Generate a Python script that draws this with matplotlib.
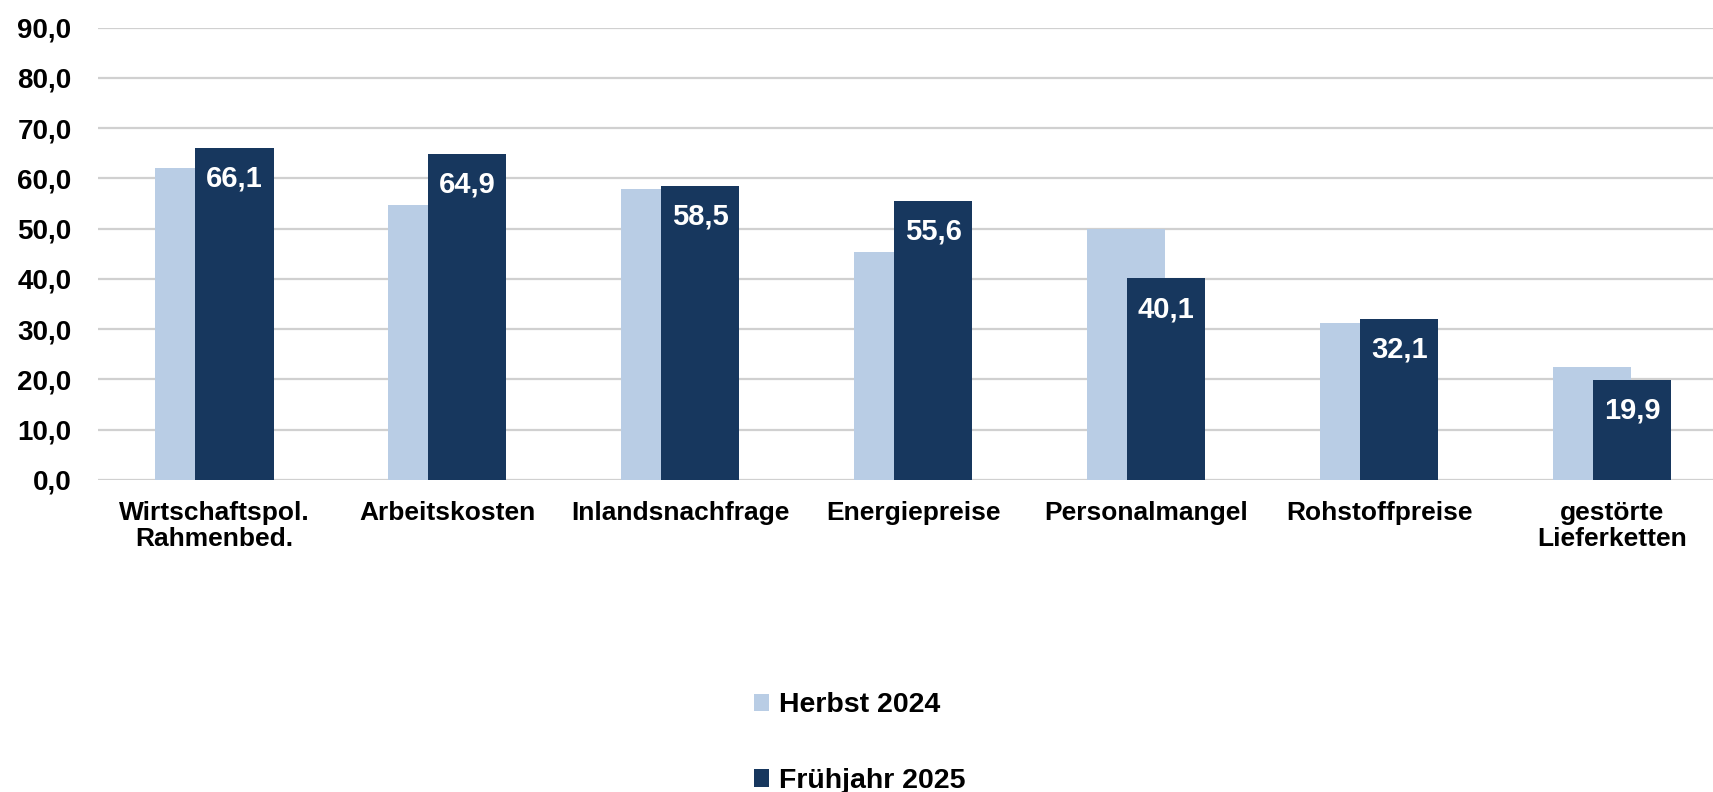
import matplotlib.pyplot as plt
import numpy as np

plt.rcParams['font.family'] = ['Liberation Sans', 'DejaVu Sans']
plt.rcParams['font.weight'] = 'bold'

categories = ['Wirtschaftspol.\nRahmenbed.', 'Arbeitskosten', 'Inlandsnachfrage',
              'Energiepreise', 'Personalmangel', 'Rohstoffpreise',
              'gestörte\nLieferketten']
herbst_2024 = [62.0, 54.8, 58.0, 45.4, 50.0, 31.3, 22.4]
fruehjahr_2025 = [66.1, 64.9, 58.5, 55.6, 40.1, 32.1, 19.9]
y_ticks = np.arange(0, 91, 10)

light = '#b9cde5'
dark = '#17375e'

fig = plt.figure(figsize=(17.13, 7.92), dpi=100)
ax = fig.add_axes([0.0572, 0.394, 0.952, 0.571])

x = np.arange(len(categories))
w = 0.335
off = 0.086
ax.bar(x - off, herbst_2024, w, color=light, label='Herbst 2024', zorder=2)
bars = ax.bar(x + off, fruehjahr_2025, w, color=dark, label='Frühjahr 2025', zorder=3)

for b, v in zip(bars, fruehjahr_2025):
    ax.annotate(f'{v:.1f}'.replace('.', ','),
                (b.get_x() + b.get_width() / 2, v),
                xytext=(0, -22), textcoords='offset points',
                ha='center', va='center', color='white',
                fontsize=21, fontweight='bold')

ax.set_xlim(-0.5, 6.5)
ax.set_ylim(0, 90)
ax.set_yticks(y_ticks)
ax.set_yticklabels([f'{t:.1f}'.replace('.', ',') for t in y_ticks], fontsize=20)
ax.set_xticks(x)
ax.set_xticklabels(categories, fontsize=19, linespacing=1.1)
ax.tick_params(axis='y', length=0, pad=19)
ax.tick_params(axis='x', length=0, pad=15)
ax.grid(axis='y', color='#d0d0d0', linewidth=1.6, zorder=0)
ax.set_axisbelow(True)
for s in ax.spines.values():
    s.set_visible(False)

fig.legend(loc='upper left', bbox_to_anchor=(0.44, 0.126), frameon=False,
           fontsize=20.5, handlelength=0.55, handleheight=0.55, handletextpad=0.35,
           labelspacing=1.75, borderaxespad=0, borderpad=0)

fig.savefig('out.png', dpi=100)
